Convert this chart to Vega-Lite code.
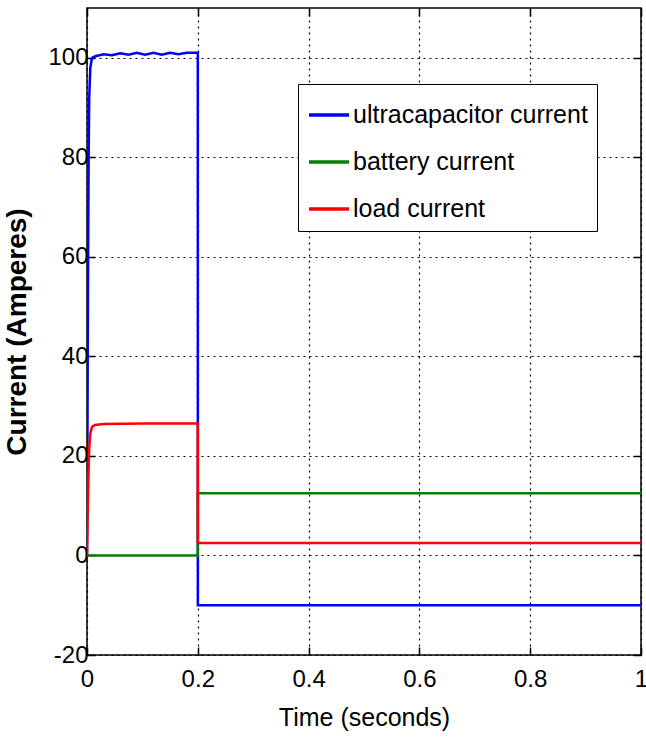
{
  "$schema": "https://vega.github.io/schema/vega-lite/v6.json",
  "width": 554,
  "height": 647,
  "autosize": {"type": "none"},
  "padding": {"left": 87, "top": 8, "right": 5, "bottom": 83},
  "background": "white",
  "config": {
    "view": {"stroke": "black", "strokeWidth": 1.5},
    "font": "Liberation Sans",
    "axis": {
      "labelFont": "Liberation Sans",
      "titleFont": "Liberation Sans",
      "labelFontSize": 24,
      "titleFontSize": 25,
      "titleFontWeight": "normal",
      "labelColor": "black",
      "titleColor": "black",
      "domain": false,
      "tickColor": "black",
      "tickSize": -8,
      "tickWidth": 1.5,
      "grid": true,
      "gridColor": "black",
      "gridDash": [2, 4],
      "gridWidth": 1.2,
      "gridOpacity": 1
    },
    "legend": {
      "orient": "none",
      "legendX": 211,
      "legendY": 76,
      "strokeColor": "black",
      "fillColor": "white",
      "padding": 9,
      "labelFont": "Liberation Sans",
      "labelFontSize": 25,
      "labelColor": "black",
      "labelLimit": 400,
      "symbolType": "stroke",
      "symbolSize": 1600,
      "symbolStrokeWidth": 3.5,
      "labelOffset": 2,
      "rowPadding": 12,
      "title": null
    }
  },
  "data": {
    "values": [
      {"t": 0, "i": 0, "s": "ultracapacitor current"},
      {"t": 0.001, "i": 30, "s": "ultracapacitor current"},
      {"t": 0.002, "i": 60, "s": "ultracapacitor current"},
      {"t": 0.003, "i": 80, "s": "ultracapacitor current"},
      {"t": 0.004, "i": 92, "s": "ultracapacitor current"},
      {"t": 0.006, "i": 98, "s": "ultracapacitor current"},
      {"t": 0.009, "i": 100, "s": "ultracapacitor current"},
      {"t": 0.015, "i": 100.3, "s": "ultracapacitor current"},
      {"t": 0.03, "i": 100.7, "s": "ultracapacitor current"},
      {"t": 0.045, "i": 100.5, "s": "ultracapacitor current"},
      {"t": 0.06, "i": 100.9, "s": "ultracapacitor current"},
      {"t": 0.075, "i": 100.6, "s": "ultracapacitor current"},
      {"t": 0.09, "i": 101, "s": "ultracapacitor current"},
      {"t": 0.105, "i": 100.6, "s": "ultracapacitor current"},
      {"t": 0.12, "i": 101, "s": "ultracapacitor current"},
      {"t": 0.135, "i": 100.6, "s": "ultracapacitor current"},
      {"t": 0.15, "i": 101, "s": "ultracapacitor current"},
      {"t": 0.165, "i": 100.7, "s": "ultracapacitor current"},
      {"t": 0.18, "i": 101, "s": "ultracapacitor current"},
      {"t": 0.2, "i": 101, "s": "ultracapacitor current"},
      {"t": 0.2001, "i": -10, "s": "ultracapacitor current"},
      {"t": 1, "i": -10, "s": "ultracapacitor current"},
      {"t": 0, "i": 0, "s": "battery current"},
      {"t": 0.2, "i": 0, "s": "battery current"},
      {"t": 0.2001, "i": 12.5, "s": "battery current"},
      {"t": 1, "i": 12.5, "s": "battery current"},
      {"t": 0, "i": 0, "s": "load current"},
      {"t": 0.001, "i": 7, "s": "load current"},
      {"t": 0.002, "i": 13, "s": "load current"},
      {"t": 0.003, "i": 18, "s": "load current"},
      {"t": 0.004, "i": 21.5, "s": "load current"},
      {"t": 0.006, "i": 24.5, "s": "load current"},
      {"t": 0.009, "i": 25.8, "s": "load current"},
      {"t": 0.014, "i": 26.2, "s": "load current"},
      {"t": 0.03, "i": 26.4, "s": "load current"},
      {"t": 0.1, "i": 26.5, "s": "load current"},
      {"t": 0.2, "i": 26.5, "s": "load current"},
      {"t": 0.2001, "i": 2.5, "s": "load current"},
      {"t": 1, "i": 2.5, "s": "load current"}
    ]
  },
  "layer": [
    {
      "mark": {"type": "line", "strokeWidth": 2.5, "clip": true},
      "encoding": {
        "x": {
          "field": "t", "type": "quantitative",
          "scale": {"domain": [0, 1], "nice": false, "zero": false},
          "axis": {"values": [0, 0.2, 0.4, 0.6, 0.8, 1], "labelExpr": "'' + datum.value", "title": "Time (seconds)", "labelPadding": 20, "titlePadding": 14, "labelFlush": false}
        },
        "y": {
          "field": "i", "type": "quantitative",
          "scale": {"domain": [-20, 110], "nice": false, "zero": false},
          "axis": {"values": [-20, 0, 20, 40, 60, 80, 100], "labelExpr": "'' + datum.value", "title": "Current (Amperes)", "titleFontWeight": "bold", "titleFontSize": 28, "titlePadding": 16, "labelPadding": 7, "labelFlush": false}
        },
        "color": {
          "field": "s", "type": "nominal",
          "scale": {"domain": ["ultracapacitor current", "battery current", "load current"], "range": ["#0000ff", "#008000", "#ff0000"]},
          "legend": {}
        },
        "order": {"field": "t", "type": "quantitative"}
      }
    },
    {
      "mark": {"type": "point", "opacity": 0},
      "encoding": {
        "x": {"field": "t", "type": "quantitative", "axis": {"orient": "top", "values": [0, 0.2, 0.4, 0.6, 0.8, 1], "labels": false, "grid": false, "title": null}},
        "y": {"field": "i", "type": "quantitative", "axis": {"orient": "right", "values": [-20, 0, 20, 40, 60, 80, 100], "labels": false, "grid": false, "title": null}}
      }
    }
  ],
  "resolve": {"axis": {"x": "independent", "y": "independent"}}
}
